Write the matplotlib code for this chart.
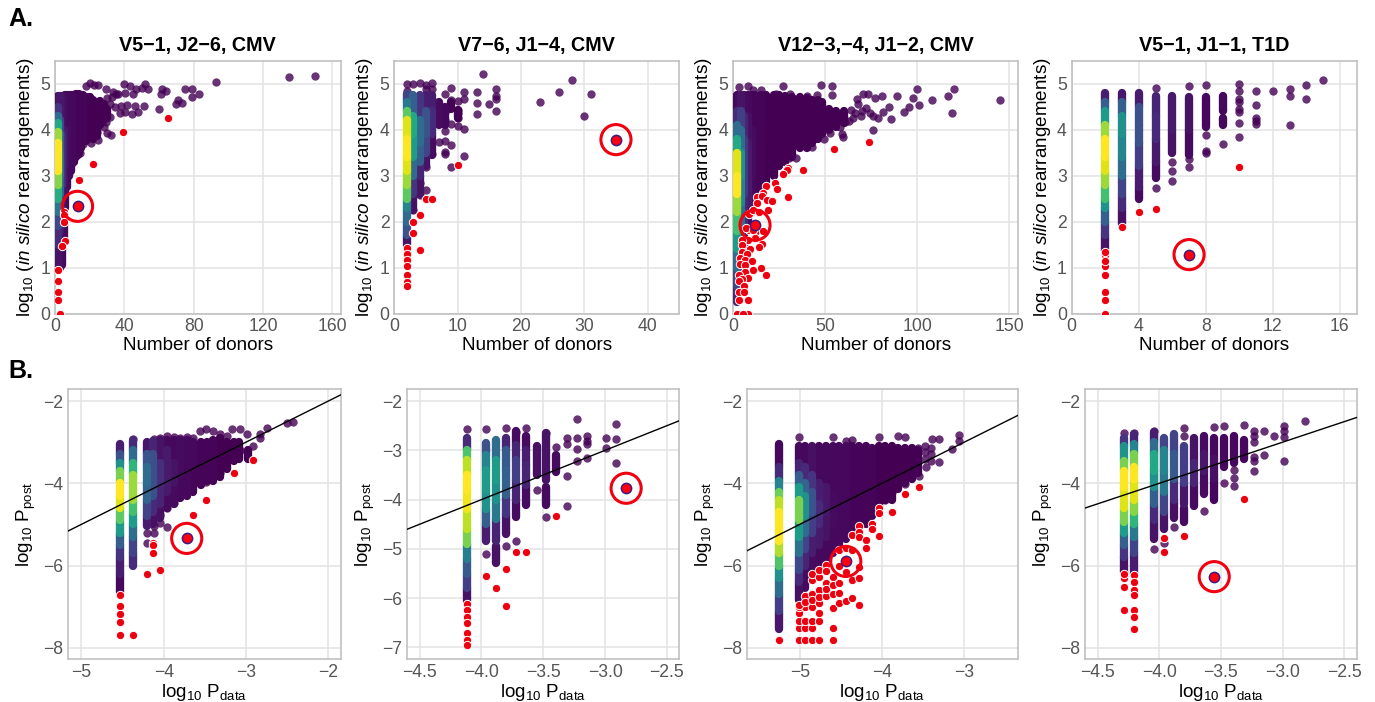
import numpy as np
import matplotlib
matplotlib.use('Agg')
import matplotlib.pyplot as plt

plt.rcParams['font.family'] = ['Liberation Sans', 'DejaVu Sans']
plt.rcParams['mathtext.fontset'] = 'custom'
plt.rcParams['mathtext.rm'] = 'Liberation Sans'
plt.rcParams['mathtext.it'] = 'Liberation Sans:italic'
plt.rcParams['mathtext.bf'] = 'Liberation Sans:bold'

# each column: x, break points along y, density level between the breaks
a1_cols_x = [2, 3, 4, 5, 6, 7, 8, 9, 10, 11, 12, 13, 14, 15, 16, 18, 20, 22, 24, 26, 28, 30]
a1_cols_y = [[1.0, 1.5, 1.9, 2.2, 2.5, 2.8, 3.1, 3.7, 3.95, 4.15, 4.3, 4.5, 4.72],
             [1.0, 1.8, 2.2, 2.6, 3.0, 3.5, 3.9, 4.2, 4.72],
             [1.05, 2.2, 2.8, 3.3, 3.9, 4.72],
             [1.6, 2.6, 3.2, 4.0, 4.72],
             [2.3, 3.2, 4.1, 4.75],
             [2.75, 3.4, 4.1, 4.75],
             [3.0, 3.7, 4.75], [3.1, 4.75], [3.25, 4.75], [3.3, 4.75], [3.4, 4.78], [3.45, 4.75],
             [3.5, 4.78], [3.6, 4.72], [3.75, 4.75], [3.75, 4.7], [3.85, 4.7], [3.8, 4.65],
             [3.85, 4.6], [4.1, 4.62], [4.2, 4.55], [4.25, 4.45]]
a1_cols_d = [[.05, .12, .22, .4, .62, .82, 1.0, .85, .6, .35, .15, .03],
             [.03, .06, .15, .3, .35, .3, .2, .06],
             [.02, .05, .12, .12, .04],
             [.02, .04, .06, .03],
             [.02, .03, .02],
             [.02, .03, .02],
             [.02, .02], [.02], [.02], [.01], [.01], [.01], [.01], [.01], [.01], [0], [0], [0], [0], [0], [0], [0]]
a1_px = [20, 18, 22.7, 25, 29.4, 33.6, 40, 43.3, 52, 53.8, 47, 40.4, 45, 36.5, 50.2, 62, 63.8, 61, 75, 79, 83.3, 79, 71.2,
         69.8, 73, 60.2, 93, 134.8, 149.8, 51.3, 46.2, 41.3, 48, 44.2, 40.4, 37.5, 34.6, 31.7, 29.4, 28.3, 32.3, 29.8,
         24.6, 21, 16.3, 14.4, 24, 33, 32, 35, 30, 38]
a1_py = [5.02, 4.94, 4.96, 4.96, 4.88, 4.82, 5.0, 4.94, 5.0, 4.87, 4.89, 4.8, 4.77, 4.78, 4.91, 4.89, 4.84, 4.78, 4.87, 4.87,
         4.77, 4.7, 4.65, 4.55, 4.58, 4.44, 5.03, 5.14, 5.17, 4.51, 4.51, 4.53, 4.38, 4.33, 4.38, 4.35, 4.49, 4.28, 4.17,
         4.06, 3.89, 3.93, 3.78, 3.7, 3.68, 3.48, 3.95, 4.7, 4.55, 4.78, 4.68, 4.52]
a1_rx = [65, 39, 22, 14, 5, 5, 5, 6, 4, 2, 2, 2, 2, 3]
a1_ry = [4.24, 3.94, 3.26, 2.91, 2.2, 2.15, 1.98, 1.57, 1.46, .95, .7, .47, .3, 0]
a1_hl = (13, 2.33)

a2_cols_x = [2, 3, 4, 5, 6, 7, 8, 9, 10]
a2_cols_y = [[1.5, 1.7, 2.0, 2.3, 2.5, 2.8, 3.1, 3.4, 3.8, 4.2, 4.4, 4.6, 4.78],
             [2.25, 2.6, 3.0, 3.4, 3.9, 4.3, 4.75],
             [2.6, 3.0, 3.3, 3.7, 4.2, 4.75],
             [3.2, 3.5, 3.9, 4.4, 4.75],
             [3.45, 3.9, 4.4, 4.75],
             [4.1, 4.6], [4.1, 4.5], [4.45, 4.6], [4.25, 4.42]]
a2_cols_d = [[.05, .25, .35, .45, .75, .85, .95, 1.0, .95, .75, .4, .2],
             [.04, .15, .35, .55, .6, .3],
             [.05, .1, .3, .35, .15],
             [.05, .2, .25, .08],
             [.03, .12, .08],
             [.03], [.02], [0], [0]]
a2_px = [2, 3, 4, 5, 5, 6, 6, 2, 8, 9, 9, 10, 11, 11, 13, 13, 13, 15, 16, 16, 16, 16, 14, 23, 26, 28, 30, 31, 11, 10, 9,
         10, 10, 10, 8, 8, 8, 8, 8, 8, 7, 9, 11, 9, 6, 5, 4, 4, 3, 5]
a2_py = [5, 5, 5.01, 4.96, 4.88, 5.02, 4.87, 4.83, 4.78, 4.91, 4.64, 4.62, 4.81, 4.67, 4.81, 4.58, 4.33, 4.56, 4.87, 4.73,
         4.67, 4.4, 5.2, 4.6, 4.81, 5.08, 4.3, 4.77, 4.02, 4.07, 4.11, 4.42, 4.35, 4.26, 4.2, 4.38, 3.96, 3.75, 3.51, 3.46,
         3.73, 3.66, 3.43, 3.19, 3.46, 2.68, 2.57, 2.84, 2.25, 3.19]
a2_rx = [2, 2, 2, 2, 2, 2, 2, 4, 3, 3, 4, 5, 6, 10]
a2_ry = [1.43, 1.3, 1.17, 1.03, .83, .69, .59, 1.39, 1.75, 1.99, 2.15, 2.49, 2.49, 3.22]
a2_hl = (35, 3.78)

a3_cols_x = [2, 4, 6, 8, 10, 12, 15, 18, 22, 25, 28, 32, 36, 40, 43, 46, 48, 52, 56, 60]
a3_cols_y = [[.25, .6, 1, 1.4, 1.8, 2.2, 2.6, 3.0, 3.5, 3.8, 4.1, 4.4, 4.75],
             [.8, 1.4, 1.9, 2.4, 3, 3.5, 4, 4.4, 4.75],
             [1.4, 2, 2.6, 3.2, 3.8, 4.3, 4.75],
             [1.9, 2.4, 3, 3.7, 4.3, 4.75],
             [2.2, 3, 4, 4.75], [2.3, 3.4, 4.75], [2.6, 4.75], [2.85, 4.75], [3.0, 4.75], [3.2, 4.75],
             [3.3, 4.72], [3.4, 4.7], [3.6, 4.7], [3.6, 4.68], [3.7, 4.65], [3.8, 4.65], [3.9, 4.6],
             [4.0, 4.45], [4.05, 4.4], [4.15, 4.4]]
a3_cols_d = [[.1, .2, .35, .55, .7, .85, 1.0, .95, .6, .35, .12, .02],
             [.1, .2, .35, .45, .5, .35, .18, .05],
             [.04, .1, .16, .16, .1, .03],
             [.03, .07, .07, .04, .02],
             [.02, .03, .01], [.01, .01], [.01], [0], [0], [0], [0], [0], [0], [0], [0], [0], [0], [0], [0], [0]]
a3_px = [2.9, 7.8, 10.9, 14.9, 26.8, 47.8, 53.8, 30.8, 39.9, 45.3, 53.4, 23.2, 67, 70.7, 73.4, 77, 80.6, 88.8, 97.8, 99.8,
         100.7, 107.8, 116.5, 119.7, 118.7, 144.7, 95.7, 92.8, 84.8, 85.7, 81.5, 78.8, 75.7, 74.3, 75.7, 69.4, 65, 60.7,
         63, 59.8, 58.9, 52.5, 49.5, 43.8, 42.6, 34, 30.4, 52.5, 56, 58, 64, 68, 72, 66, 70]
a3_py = [4.93, 4.94, 4.86, 4.86, 4.94, 4.96, 4.94, 4.78, 4.72, 4.75, 4.75, 4.78, 4.67, 4.78, 4.77, 4.69, 4.72, 4.72, 4.69, 4.88,
         4.53, 4.64, 4.72, 4.88, 4.35, 4.65, 4.49, 4.37, 4.48, 4.22, 4.37, 4.25, 4.29, 4.35, 4, 4.29, 4.26, 4.17, 4.19, 3.84,
         3.91, 3.93, 3.8, 3.8, 3.62, 3.37, 3.38, 4.2, 4.28, 4.06, 4.42, 4.55, 4.47, 4.36, 4.4]
a3_rx = [54.7, 73.7, 37.7, 29.9, 29.3, 26.8, 22.8, 23.9, 17.8, 29.7, 15.9, 12.7, 15.4, 18.5, 20.8, 12.7, 18.8, 8.7, 10.9, 13.9,
         15.9, 11.8, 8.7, 6.9, 10.9, 11.8, 8.2, 15.4, 13.9, 9, 5, 5, 4.5, 7.2, 3.6, 6.3, 10, 3.6, 6.3, 14.9, 10.9, 6.3, 17.8,
         8.2, 2.9, 4.5, 2.9, 6, 2.9, 6, 2.9, 7.8, 1.8, 7.8, 5.4]
a3_ry = [3.57, 3.72, 3.11, 3.17, 3.12, 3.04, 2.84, 2.7, 2.78, 2.54, 2.63, 2.54, 2.56, 2.46, 2.44, 2.41, 2.25, 2.17, 2.25, 2.2,
         1.79, 1.75, 1.81, 1.85, 1.81, 1.65, 1.59, 1.52, 1.45, 1.4, 1.6, 1.49, 1.34, 1.3, 1.2, 1.16, 1.14, 1.07, 1.05, .99, .94,
         .91, .84, .78, .83, .76, .71, .59, .47, .47, .3, .3, 0, 0, 0]
a3_hl = (11.8, 1.92)

a4_cols_x = [2, 3, 4, 5, 6, 7, 8, 9, 9]
a4_cols_y = [[1.35, 1.7, 2.0, 2.3, 2.5, 2.8, 3.1, 3.4, 3.8, 4.1, 4.4, 4.6, 4.8],
             [1.95, 2.3, 2.6, 3.0, 3.4, 3.9, 4.3, 4.6, 4.8],
             [2.5, 2.75, 3.2, 3.7, 4.1, 4.5, 4.8],
             [2.95, 3.3, 3.8, 4.3, 4.72],
             [3.5, 4, 4.72],
             [3.45, 4.0, 4.7],
             [4.05, 4.7], [4.1, 4.25], [4.4, 4.72]]
a4_cols_d = [[.05, .15, .3, .5, .7, .85, .95, 1.0, .85, .55, .3, .08],
             [.04, .12, .2, .35, .45, .5, .3, .06],
             [.03, .08, .18, .25, .25, .08],
             [.03, .07, .12, .1],
             [.05, .07],
             [.03, .05],
             [.02], [.02], [.02]]
a4_px = [5, 5, 6, 6, 6, 7, 7, 7, 8, 8, 8, 8, 9, 10, 10, 10, 10, 10, 10, 10, 10, 11, 11, 11, 11, 11, 12, 13, 13, 13, 14, 14, 15]
a4_py = [4.9, 2.73, 2.88, 3.1, 3.3, 4.94, 3.35, 3.19, 4.97, 3.88, 3.54, 3.48, 3.68, 5, 4.83, 4.66, 4.6, 4.45, 4.38, 4.14, 3.84,
         4.84, 4.53, 4.25, 4.18, 4.13, 4.83, 4.87, 4.72, 4.1, 4.97, 4.67, 5.07]
a4_rx = [2, 2, 2, 2, 2, 2, 2, 2, 3, 4, 5, 10]
a4_ry = [1.27, 1.03, .84, 1.15, 1.33, .47, .3, 0, 1.87, 2.2, 2.27, 3.18]
a4_hl = (7, 1.28)

b1_cols_x = [-4.526, -4.368, -4.206, -4.125, -4.04, -3.96, -3.88, -3.8, -3.72, -3.64, -3.55, -3.47, -3.4, -3.32, -3.23, -3.15, -3.08, -2.98]
b1_cols_y = [[-6.65, -6.2, -5.8, -5.5, -5.2, -4.9, -4.6, -4.3, -4, -3.7, -3.5, -3.3, -3.05],
             [-6, -5.7, -5.3, -5, -4.7, -4.4, -4.1, -3.8, -3.5, -3.2, -2.95],
             [-5.05, -4.8, -4.4, -4, -3.6, -3.3, -3],
             [-5.0, -4.7, -4.3, -3.8, -3.3, -2.98],
             [-4.85, -4.5, -4, -3.5, -2.95],
             [-4.6, -4.2, -3.7, -3.2, -2.95],
             [-4.5, -4, -3.5, -2.95],
             [-4.35, -3.8, -2.95], [-4.3, -3.7, -2.95], [-4.2, -3.6, -3], [-4.05, -3.5, -3], [-3.95, -3],
             [-3.95, -2.95], [-3.85, -2.9], [-3.65, -3], [-3.45, -3], [-3.4, -3.0], [-3.4, -3.2]]
b1_cols_d = [[.02, .08, .15, .3, .55, .75, .95, 1.0, .8, .5, .25, .08],
             [.12, .2, .35, .55, .7, .85, .85, .65, .35, .12],
             [.08, .2, .32, .35, .26, .06],
             [.04, .12, .24, .24, .1],
             [.04, .1, .13, .05],
             [.03, .07, .07, .02],
             [.03, .05, .02],
             [.02, .03], [.02, .02], [.01, .02], [.01, .01], [.01], [.01], [0], [0], [0], [0], [0]]
b1_px = [-2.99, -3.07, -3.17, -3.4, -3.48, -3.56, -2.75, -2.5, -2.43, -2.83, -2.83, -2.91, -2.99, -3.07, -3.15, -3.4, -3.48, -3.32,
         -3.56, -3.96, -4.04, -4.12, -4.2, -4.12, -4.2, -3.72, -3.8, -3.88, -3.96, -4.04, -3.88, -3.96, -4.04, -4.12, -4.37,
         -3.8, -3.72, -3.64, -3.23, -3.32]
b1_py = [-2.8, -2.67, -2.67, -2.72, -2.69, -2.73, -2.65, -2.54, -2.5, -2.8, -2.91, -3.09, -3.23, -3.19, -3.29, -3.88, -3.96, -3.76,
         -3.92, -5.06, -4.96, -5.03, -5.2, -5.2, -5.46, -4.2, -4.33, -4.47, -4.61, -4.77, -2.88, -2.85, -2.91, -2.92, -2.92,
         -2.9, -2.88, -2.9, -2.85, -2.8]
b1_rx = [-4.526, -4.526, -4.526, -4.526, -4.526, -4.37, -4.2, -4.04, -4.125, -4.125, -4.125, -3.64, -3.48, -3.15, -2.91]
b1_ry = [-6.72, -6.98, -7.19, -7.38, -7.68, -7.68, -6.21, -6.1, -5.45, -5.5, -5.69, -4.76, -4.41, -3.74, -3.44]
b1_hl = (-3.72, -5.34)

b2_cols_x = [-4.12, -3.96, -3.88, -3.88, -3.8, -3.72, -3.64, -3.555, -3.475, -3.475, -3.395]
b2_cols_y = [[-6.05, -5.8, -5.5, -5.2, -4.9, -4.6, -4.2, -3.8, -3.5, -3.2, -3.0, -2.75],
             [-4.85, -4.5, -4.2, -3.8, -3.4, -3.1, -2.85],
             [-4.85, -4.4, -4, -3.6, -3.2, -2.8],
             [-5.28, -4.95],
             [-4.7, -4.3, -3.9, -3.4, -3, -2.75],
             [-4.35, -4, -3.6, -3.2, -2.9, -2.6],
             [-4.1, -3.7, -3.3, -3.0, -2.7],
             [-3.5, -2.92], [-4.1, -3.75], [-3.6, -2.65], [-3.45, -3.1]]
b2_cols_d = [[.05, .18, .28, .42, .8, .9, .98, 1.0, .9, .72, .12],
             [.08, .3, .5, .55, .45, .25],
             [.1, .4, .5, .55, .35],
             [.05],
             [.05, .15, .3, .28, .1],
             [.03, .1, .18, .1, .03],
             [.03, .1, .08, .03],
             [.04], [.03], [.05], [.03]]
b2_px = [-3.555, -3.475, -3.395, -3.31, -3.31, -3.31, -3.31, -3.23, -3.23, -3.23, -3.23, -3.15, -3.15, -3.15, -3.15, -2.99, -2.99,
         -2.91, -2.91, -2.91, -4.12, -3.96, -3.8, -3.72, -3.64, -3.96, -3.8, -3.72, -3.475]
b2_py = [-3.8, -4.35, -2.93, -2.75, -2.88, -3.53, -4.12, -2.36, -2.75, -2.98, -3.22, -2.7, -2.82, -2.87, -3.15, -2.75, -2.95, -2.47,
         -2.78, -3.25, -2.56, -2.56, -2.55, -2.62, -2.55, -5.1, -4.95, -4.85, -2.65]
b2_rx = [-4.12, -4.12, -4.12, -4.12, -4.12, -4.12, -4.12, -3.96, -3.88, -3.8, -3.8, -3.72, -3.64, -3.395]
b2_ry = [-6.12, -6.23, -6.38, -6.51, -6.7, -6.85, -6.95, -5.56, -5.8, -5.4, -6.15, -5.06, -5.06, -4.33]
b2_hl = (-2.83, -3.77)

b3_cols_x = [-5.25, -5.01, -4.93, -4.85, -4.77, -4.68, -4.6, -4.52, -4.44, -4.36, -4.28, -4.2, -4.12, -4.04, -3.96, -3.88, -3.8, -3.72, -3.64, -3.56]
b3_cols_y = [[-7.55, -7.1, -6.7, -6.3, -6, -5.7, -5.4, -4.7, -4.4, -4.2, -3.95, -3.6, -3.05],
             [-6.85, -6.4, -6.1, -5.7, -5.3, -4.9, -4.4, -4.1, -3.8, -3.5, -3.1],
             [-6.55, -6, -5.6, -5.2, -4.8, -4.3, -4, -3.6, -3.1],
             [-6.25, -5.7, -5.2, -4.7, -4.2, -3.8, -3.1],
             [-6, -5.5, -5, -4.5, -4, -3.1],
             [-5.95, -5.3, -4.7, -4.1, -3.1],
             [-5.7, -5, -4.3, -3.1],
             [-5.55, -4.5, -3.1],
             [-5.35, -3.1], [-5.25, -3.1], [-5.05, -3.1], [-5, -3.1], [-4.8, -3.15], [-4.6, -3.1], [-4.4, -3.1],
             [-4.4, -3.1], [-4.15, -3.15], [-4, -3.15], [-3.9, -3.15], [-3.75, -3.2]]
b3_cols_d = [[.06, .18, .35, .5, .72, .88, 1.0, .9, .78, .45, .12, .02],
             [.04, .12, .22, .38, .55, .8, .55, .3, .1, .02],
             [.03, .1, .2, .35, .5, .32, .12, .02],
             [.03, .08, .18, .25, .15, .04],
             [.02, .07, .12, .08, .02],
             [.02, .05, .06, .02],
             [.02, .03, .02],
             [.02, .02],
             [.02], [.01], [.01], [.01], [.01], [0], [0], [0], [0], [0], [0], [0]]
b3_px = [-5.01, -4.6, -4.44, -4.36, -4.04, -3.8, -3.72, -3.39, -3.31, -3.07, -3.07, -3.15, -3.31, -3.47, -3.55, -3.56, -3.48, -3.4,
         -3.72, -3.8, -3.88, -3.96, -4.13, -4.2, -3.48, -3.48, -3.4, -3.4]
b3_py = [-2.88, -2.88, -2.97, -2.95, -2.88, -2.85, -2.88, -2.93, -2.93, -2.83, -2.97, -3.17, -3.48, -3.6, -3.82, -3.13, -3.09, -3.13,
         -4.02, -4.02, -4.2, -4.41, -4.76, -4.88, -3.25, -3.4, -3.3, -3.45]
b3_rx = [-5.25, -5.01, -4.93, -4.85, -4.77, -4.6, -5.01, -4.93, -4.85, -4.6, -5.01, -4.93, -4.85, -4.77, -5.01, -4.77, -5.01, -4.93, -4.85,
         -5.01, -4.93, -4.85, -4.93, -4.85, -4.77, -4.77, -4.77, -4.85, -4.85, -4.77, -4.77, -4.68, -4.68, -4.68, -4.68, -4.68, -4.6, -4.6, -4.6, -4.6,
         -4.52, -4.52, -4.52, -4.52, -4.52, -4.44, -4.44, -4.44, -4.36, -4.36, -4.36, -4.36, -4.28, -4.28, -4.28, -4.28, -4.28, -4.28,
         -4.2, -4.2, -4.12, -4.12, -4.04, -4.04, -4.04, -3.88, -3.72, -3.55]
b3_ry = [-7.82, -7.82, -7.82, -7.82, -7.82, -7.82, -7.52, -7.52, -7.52, -7.52, -7.34, -7.34, -7.34, -7.34, -7.15, -7.15, -7.0, -7.0, -7.0,
         -6.96, -6.74, -6.68, -6.88, -6.84, -6.6, -6.9, -6.76, -6.35, -6.2, -6.28, -6.11, -5.99, -6.14, -6.42, -6.74, -6.58, -6.27, -6.48, -6.68, -7.04,
         -5.63, -6.01, -6.42, -6.66, -6.92, -5.58, -6.15, -6.86, -5.63, -5.26, -6.36, -6.8, -5.03, -5.18, -5.3, -6.03, -6.3, -6.96,
         -5.38, -5.58, -4.98, -5.11, -4.61, -4.72, -5.28, -4.71, -4.25, -4.09]
b3_hl = (-4.44, -5.9)

b4_cols_x = [-4.286, -4.205, -4.04, -3.96, -3.88, -3.8, -3.8, -3.8, -3.72, -3.64, -3.555, -3.475, -3.395, -3.31]
b4_cols_y = [[-6.15, -5.8, -5.5, -5.2, -4.95, -4.6, -4.1, -3.7, -3.45, -3.1, -2.9],
             [-6.2, -5.7, -5.3, -5, -4.7, -4.4, -3.9, -3.6, -3.3, -3.05, -2.8],
             [-5.35, -4.9, -4.5, -4.1, -3.7, -3.3, -3, -2.75],
             [-5.1, -4.7, -4.2, -3.7, -3.2, -2.9],
             [-4.85, -4.4, -3.9, -3.3, -2.8],
             [-4.95, -4.6], [-4.5, -4.0], [-4, -3.1],
             [-4.55, -4, -3.5, -2.9],
             [-4.25, -3.7, -3.3, -2.85],
             [-4.4, -3.9, -3.4, -2.9],
             [-3.6, -2.9], [-3.5, -2.85], [-3.4, -2.95]]
b4_cols_d = [[.05, .15, .3, .55, .8, .95, 1.0, .8, .5, .15],
             [.08, .2, .4, .65, .82, .95, 1.0, .8, .45, .1],
             [.05, .12, .3, .5, .6, .35, .08],
             [.05, .2, .4, .45, .2],
             [.04, .12, .28, .2],
             [.03], [.06], [.18],
             [.03, .1, .05],
             [.03, .06, .03],
             [.02, .04, .02],
             [.02], [.02], [.02]]
b4_px = [-4.286, -4.205, -4.04, -3.8, -3.15, -3.07, -2.99, -2.99, -2.99, -2.99, -3.15, -2.82, -4.04, -3.88, -3.64, -3.96, -3.555, -3.475, -3.475,
         -3.395, -3.395, -3.395, -3.31, -3.23, -3.23, -3.23, -3.23, -3.23, -3.23, -3.8]
b4_py = [-2.78, -2.78, -2.74, -2.66, -2.73, -2.85, -2.6, -2.72, -2.88, -3.45, -3.32, -2.48, -5.6, -5.07, -4.67, -5.45, -2.63, -2.6, -4.0,
         -3.68, -3.88, -4.07, -2.58, -2.72, -2.85, -3.0, -3.35, -3.45, -3.7, -2.85]
b4_rx = [-4.286, -4.286, -4.286, -4.286, -4.205, -4.205, -4.205, -4.205, -4.205, -4.205, -4.205, -3.96, -3.96, -3.8, -3.31]
b4_ry = [-6.3, -6.2, -6.51, -7.08, -6.23, -6.41, -6.6, -6.71, -7.08, -7.26, -7.55, -5.34, -5.68, -5.28, -4.38]
b4_hl = (-3.555, -6.27)

titles = ['V5\u22121, J2\u22126, CMV', 'V7\u22126, J1\u22124, CMV', 'V12\u22123,\u22124, J1\u22122, CMV', 'V5\u22121, J1\u22121, T1D']
a_xticks = [[0, 40, 80, 120, 160], [0, 10, 20, 30, 40], [0, 50, 100, 150], [0, 4, 8, 12, 16]]
a_xlims = [(0, 164.8), (0, 45), (0, 154.9), (0, 17)]
a_yticks = [0, 1, 2, 3, 4, 5]
b_xticks = [[-5, -4, -3, -2], [-4.5, -4, -3.5, -3, -2.5], [-5, -4, -3], [-4.5, -4, -3.5, -3, -2.5]]
b_xlabs = [['\u22125', '\u22124', '\u22123', '\u22122'], ['\u22124.5', '\u22124.0', '\u22123.5', '\u22123.0', '\u22122.5'],
           ['\u22125', '\u22124', '\u22123'], ['\u22124.5', '\u22124.0', '\u22123.5', '\u22123.0', '\u22122.5']]
b_xlims = [(-5.158, -1.85), (-4.6, -2.4), (-5.644, -2.344), (-4.6, -2.4)]
b_yticks = [[-2, -4, -6, -8], [-2, -3, -4, -5, -6, -7], [-2, -4, -6, -8], [-2, -4, -6, -8]]
b_ylims = [(-8.28, -1.7), (-7.24, -1.75), (-8.28, -1.7), (-8.28, -1.7)]

# axes boxes in pixels: left, right
a_box = [(55, 340.7), (394.3, 679.3), (733.3, 1018.3), (1071.7, 1356.7)]
b_box = [(68.3, 340.7), (407.3, 679.3), (746.7, 1018.3), (1085.3, 1356.7)]

W, H = 1375, 702
cmap = plt.cm.viridis
red = '#ec0010'
label_col = '#555555'


def make_ax(left, right, top, bottom):
    ax = fig.add_axes([left / W, 1 - bottom / H, (right - left) / W, (bottom - top) / H])
    ax.set_axisbelow(True)
    ax.grid(True, color='#e3e3e3', lw=1.1)
    for s in ax.spines.values():
        s.set_color('#bcbcbc')
        s.set_linewidth(1.1)
    ax.tick_params(length=0, labelsize=12.7, labelcolor=label_col, pad=3.5)
    # label offsets in pixels
    ax.yaxis.set_label_coords(-(ylab_off) / (right - left), 0.5)
    ax.xaxis.set_label_coords(0.5, -xlab_off / (bottom - top))
    return ax


def draw_points(ax, cols_x, cols_y, cols_d, px, py, rx, ry, hl):
    # cut each column into its density bands, densest drawn last
    xs, lo, hi, dd = [], [], [], []
    for x, ys, ds in zip(cols_x, cols_y, cols_d):
        for i in range(len(ds)):
            xs.append(x)
            lo.append(ys[i])
            hi.append(ys[i + 1])
            dd.append(ds[i])
    order = np.argsort(dd)
    ax.vlines(np.array(xs)[order], np.array(lo)[order], np.array(hi)[order],
              colors=cmap(np.array(dd)[order]), lw=6.0, capstyle='round', zorder=3)
    ax.scatter(px, py, s=36, color=cmap(0.0), alpha=0.8, linewidths=0, zorder=2.5)
    ax.scatter(rx, ry, s=36, color=red, edgecolors='white', linewidths=0.7, zorder=4)
    ax.scatter([hl[0]], [hl[1]], s=72, color='#3f1a80', linewidths=0, zorder=5)
    ax.scatter([hl[0]], [hl[1]], s=40, color='#ff0010', linewidths=0, zorder=6)
    ax.scatter([hl[0]], [hl[1]], s=470, facecolors='none', edgecolors='#f00010', linewidths=2.2, zorder=6)


fig = plt.figure(figsize=(W / 100, H / 100), dpi=100)

a_data = [(a1_cols_x, a1_cols_y, a1_cols_d, a1_px, a1_py, a1_rx, a1_ry, a1_hl),
          (a2_cols_x, a2_cols_y, a2_cols_d, a2_px, a2_py, a2_rx, a2_ry, a2_hl),
          (a3_cols_x, a3_cols_y, a3_cols_d, a3_px, a3_py, a3_rx, a3_ry, a3_hl),
          (a4_cols_x, a4_cols_y, a4_cols_d, a4_px, a4_py, a4_rx, a4_ry, a4_hl)]
b_data = [(b1_cols_x, b1_cols_y, b1_cols_d, b1_px, b1_py, b1_rx, b1_ry, b1_hl),
          (b2_cols_x, b2_cols_y, b2_cols_d, b2_px, b2_py, b2_rx, b2_ry, b2_hl),
          (b3_cols_x, b3_cols_y, b3_cols_d, b3_px, b3_py, b3_rx, b3_ry, b3_hl),
          (b4_cols_x, b4_cols_y, b4_cols_d, b4_px, b4_py, b4_rx, b4_ry, b4_hl)]

for i in range(4):
    ylab_off, xlab_off = 19, 24
    ax = make_ax(a_box[i][0], a_box[i][1], 60.5, 313.5)
    draw_points(ax, *a_data[i])
    ax.set_xlim(a_xlims[i])
    ax.set_ylim(0, 5.5)
    ax.set_xticks(a_xticks[i])
    ax.set_yticks(a_yticks)
    ax.set_title(titles[i], fontsize=14.2, fontweight='bold', pad=7)
    ax.set_xlabel('Number of donors', fontsize=13.6)
    ax.set_ylabel(r'$\mathrm{log}_{10}$ ($\mathit{in\ silico}$ rearrangements)', fontsize=13.6)

    ylab_off, xlab_off = 30, 23
    ax = make_ax(b_box[i][0], b_box[i][1], 388.7, 659.3)
    draw_points(ax, *b_data[i])
    ax.plot(b_xlims[i], b_xlims[i], color='black', lw=1, zorder=7)
    ax.set_xlim(b_xlims[i])
    ax.set_ylim(b_ylims[i])
    ax.set_xticks(b_xticks[i])
    ax.set_xticklabels(b_xlabs[i])
    ax.set_yticks(b_yticks[i])
    ax.set_yticklabels(['\u2212%d' % abs(v) for v in b_yticks[i]])
    ax.set_xlabel(r'$\mathrm{log}_{10}\ \mathrm{P}_{\mathrm{data}}$', fontsize=13.6)
    ax.set_ylabel(r'$\mathrm{log}_{10}\ \mathrm{P}_{\mathrm{post}}$', fontsize=13.6)

fig.text(8 / W, 1 - 26 / H, 'A.', fontsize=18, fontweight='bold')
fig.text(8 / W, 1 - 378 / H, 'B.', fontsize=18, fontweight='bold')

fig.savefig('out.png', dpi=100)
